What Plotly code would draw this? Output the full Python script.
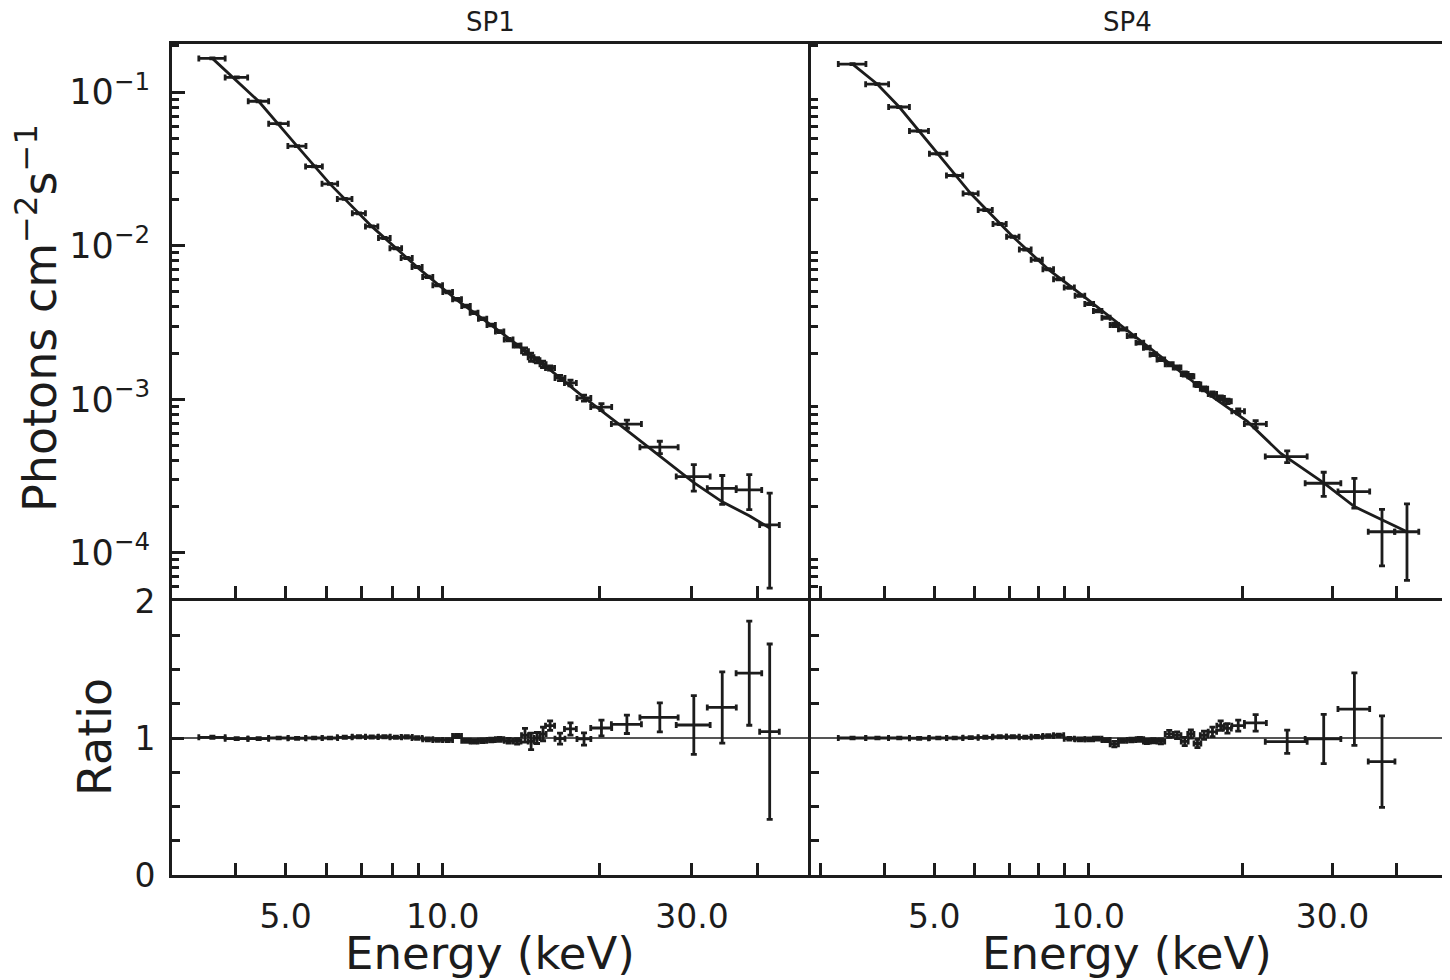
import plotly.graph_objects as go

# SP1 spectrum: bin centres / half widths (keV), unfolded flux (photons cm^-2 s^-1)
sp1_energy = [3.62, 4.03, 4.44, 4.85, 5.26, 5.67, 6.08, 6.49, 6.91, 7.31,
              7.73, 8.13, 8.53, 8.93, 9.36, 9.78, 10.22, 10.65, 11.08, 11.48,
              11.92, 12.38, 12.85, 13.37, 13.88, 14.37, 14.76, 15.15, 15.56, 16.05,
              16.77, 17.56, 18.64, 20.13, 22.52, 26.04, 30.25, 34.29, 38.63, 42.27]
sp1_energy_hw = [0.21, 0.20, 0.20, 0.21, 0.21, 0.21, 0.21, 0.21, 0.20, 0.20,
                 0.20, 0.21, 0.21, 0.20, 0.21, 0.21, 0.22, 0.21, 0.21, 0.20,
                 0.22, 0.23, 0.24, 0.26, 0.24, 0.22, 0.19, 0.20, 0.21, 0.32,
                 0.37, 0.46, 0.57, 0.93, 1.49, 2.19, 2.26, 2.19, 2.18, 1.83]
sp1_flux = [0.1661, 0.1248, 0.0873, 0.0624, 0.04457, 0.03283, 0.0253, 0.02019, 0.01626, 0.01337,
            0.01123, 0.00963, 0.00831, 0.00726, 0.00627, 0.00553, 0.0050, 0.00448, 0.00405, 0.003665,
            0.003348, 0.003047, 0.002762, 0.002448, 0.002237, 0.002059, 0.001881, 0.001798, 0.001693, 0.001602,
            0.001378, 0.001278, 0.00102, 0.00089, 0.00069, 0.000488, 0.000314, 0.000263, 0.000257, 0.000152]
sp1_flux_err = [0.0013, 0.00088, 0.00061, 0.00044, 0.00031, 0.00023, 0.00018, 0.00016, 0.00013, 0.00011,
                0.000089, 0.000077, 0.000074, 0.000065, 0.000063, 0.000056, 0.000056, 0.000053, 0.00005, 0.000049,
                0.000044, 0.000043, 0.000042, 0.000042, 0.000046, 0.0001, 0.000116, 0.000072, 0.000082, 0.000051,
                0.000055, 0.000054, 0.000046, 0.000047, 0.000042, 0.000045, 0.000062, 0.000056, 0.000066, 0.000093]
sp1_ratio = [1.005, 0.995, 0.995, 1.0, 0.998, 1.0, 1.0, 1.005, 1.01, 1.008,
             1.01, 1.005, 1.008, 1.0, 0.99, 0.985, 0.985, 1.015, 0.98, 0.975,
             0.98, 0.985, 0.99, 0.98, 0.975, 1.02, 0.975, 1.0, 1.03, 1.09,
             0.995, 1.066, 0.993, 1.073, 1.10, 1.15, 1.095, 1.223, 1.473, 1.046]
sp1_ratio_err = [0.008, 0.007, 0.007, 0.007, 0.007, 0.007, 0.007, 0.008, 0.008, 0.008,
                 0.008, 0.008, 0.009, 0.009, 0.01, 0.01, 0.011, 0.012, 0.012, 0.013,
                 0.013, 0.014, 0.015, 0.017, 0.02, 0.05, 0.06, 0.04, 0.05, 0.035,
                 0.04, 0.045, 0.045, 0.057, 0.067, 0.106, 0.215, 0.26, 0.38, 0.64]
sp1_model_energy = [3.62, 4.44, 5.26, 6.08, 7.31, 8.93, 10.65, 12.85, 15.56, 18.64,
                    22.52, 26.04, 30.25, 34.29, 38.63, 42.27]
sp1_model_flux = [0.1661, 0.0873, 0.04457, 0.0253, 0.01337, 0.00726, 0.00442, 0.00277, 0.001693, 0.00103,
                  0.000627, 0.000424, 0.000287, 0.000215, 0.0001745, 0.000145]

# SP4 spectrum
sp4_energy = [3.46, 3.87, 4.27, 4.67, 5.09, 5.48, 5.89, 6.29, 6.71, 7.12,
              7.53, 7.93, 8.35, 8.75, 9.18, 9.63, 10.04, 10.43, 10.83, 11.24,
              11.67, 12.14, 12.61, 13.01, 13.40, 13.86, 14.39, 14.91, 15.43, 15.86,
              16.34, 16.83, 17.48, 18.14, 18.70, 19.63, 21.23, 24.47, 28.84, 33.11,
              37.49, 41.95]
sp4_energy_hw = [0.215, 0.20, 0.20, 0.20, 0.20, 0.20, 0.20, 0.20, 0.20, 0.20,
                 0.20, 0.20, 0.20, 0.20, 0.21, 0.21, 0.20, 0.20, 0.20, 0.21,
                 0.22, 0.23, 0.22, 0.20, 0.20, 0.24, 0.26, 0.26, 0.24, 0.22,
                 0.25, 0.28, 0.33, 0.31, 0.33, 0.56, 1.05, 2.30, 2.31, 2.36,
                 2.25, 2.29]
sp4_flux = [0.1524, 0.1128, 0.0801, 0.0559, 0.03975, 0.02868, 0.02187, 0.01711, 0.01386, 0.01145,
            0.00946, 0.0081, 0.00702, 0.00606, 0.00534, 0.00473, 0.00418, 0.00376, 0.0034, 0.00305,
            0.002855, 0.00258, 0.002333, 0.002164, 0.00196, 0.001818, 0.001693, 0.001611, 0.001463, 0.001413,
            0.001248, 0.001171, 0.001083, 0.00102, 0.00097, 0.000835, 0.00069, 0.000424, 0.000284, 0.0002505,
            0.0001372, 0.0001372]
sp4_flux_err = [0.00107, 0.00079, 0.00056, 0.00039, 0.00028, 0.0002, 0.00015, 0.000137, 0.00011, 0.00009,
                0.000075, 0.000072, 0.000062, 0.000053, 0.000054, 0.000048, 0.000042, 0.000042, 0.000038, 0.00008,
                0.000035, 0.000034, 0.000033, 0.000033, 0.000032, 0.000034, 0.000041, 0.00004, 0.000045, 0.000041,
                0.000039, 0.000035, 0.000036, 0.000033, 0.000032, 0.000031, 0.000037, 0.000037, 0.000051, 0.000055,
                0.000055, 0.000071]
sp4_ratio = [1.0, 1.0, 1.0, 0.998, 1.0, 1.0, 1.002, 1.005, 1.01, 1.01,
             1.005, 1.01, 1.015, 1.02, 0.995, 0.99, 0.99, 0.995, 0.985, 0.955,
             0.98, 0.985, 0.99, 0.975, 0.98, 0.975, 1.03, 1.02, 0.975, 1.03,
             0.96, 1.02, 1.045, 1.09, 1.07, 1.09, 1.11, 0.973, 0.993, 1.211,
             0.828, None]
sp4_ratio_err = [0.007, 0.007, 0.007, 0.007, 0.007, 0.007, 0.007, 0.008, 0.008, 0.008,
                 0.008, 0.009, 0.009, 0.009, 0.01, 0.01, 0.01, 0.011, 0.011, 0.02,
                 0.012, 0.013, 0.014, 0.015, 0.016, 0.018, 0.025, 0.025, 0.03, 0.03,
                 0.03, 0.03, 0.035, 0.035, 0.035, 0.04, 0.06, 0.085, 0.18, 0.265,
                 0.334, None]
sp4_model_energy = [3.46, 3.87, 4.27, 4.67, 5.09, 5.89, 7.12, 8.35, 9.68, 13.05,
                    17.60, 20.45, 23.74, 28.84, 33.11, 41.95]
sp4_model_flux = [0.1524, 0.1128, 0.0801, 0.0559, 0.03975, 0.02187, 0.01145, 0.00702, 0.00483, 0.00222,
                  0.00102, 0.000718, 0.000446, 0.000286, 0.0002, 0.000137]

# tick labels
energy_ticks = [5, 10, 30]
energy_ticktext = ["5.0", "10.0", "30.0"]
energy_minor = [3, 4, 6, 7, 8, 9, 20, 40, 50]
flux_ticks = [1e-4, 1e-3, 1e-2, 1e-1]
flux_ticktext = ["10<sup>−4</sup>", "10<sup>−3</sup>", "10<sup>−2</sup>", "10<sup>−1</sup>"]
ratio_ticks = [0, 1, 2]
ratio_ticktext = ["0", "1", "2"]
ratio_minor = [0.25, 0.5, 0.75, 1.25, 1.5, 1.75]

INK = "#1c1c1c"
FONT = "DejaVu Sans"
LW = 3
TW = 2.5
# the page body keeps its default 8px margin, so the figure is shrunk by it
# and everything below is laid out in page pixels
OFF = 8
W, H = 1450 - OFF, 980 - OFF

flux_minor = [m * 10 ** p for p in range(-5, 0) for m in range(2, 10)]


def px_x(a, b):
    return [(a - OFF) / W, (b - OFF) / W]


def px_y(top, bottom):
    return [1 - (bottom - OFF) / H, 1 - (top - OFF) / H]


def add_points(fig, xa, ya, x, xhw, y, yerr):
    # crosses: bin width horizontally, 1 sigma vertically
    fig.add_trace(go.Scatter(
        x=x, y=y, mode="markers", xaxis=xa, yaxis=ya,
        marker=dict(size=2, color=INK),
        error_x=dict(type="data", array=xhw, color=INK, thickness=2.8, width=3),
        error_y=dict(type="data", array=yerr, color=INK, thickness=2.8, width=3),
        hoverinfo="x+y", showlegend=False))


def add_model(fig, xa, ya, x, y):
    fig.add_trace(go.Scatter(
        x=x, y=y, mode="lines", xaxis=xa, yaxis=ya,
        line=dict(color=INK, width=2.8), hoverinfo="skip", showlegend=False))


fig = go.Figure()

add_points(fig, "x", "y", sp1_energy, sp1_energy_hw, sp1_flux, sp1_flux_err)
add_model(fig, "x", "y", sp1_model_energy, sp1_model_flux)
add_points(fig, "x2", "y2", sp4_energy, sp4_energy_hw, sp4_flux, sp4_flux_err)
add_model(fig, "x2", "y2", sp4_model_energy, sp4_model_flux)
add_points(fig, "x3", "y3", sp1_energy, sp1_energy_hw, sp1_ratio, sp1_ratio_err)
add_points(fig, "x4", "y4", sp4_energy, sp4_energy_hw, sp4_ratio, sp4_ratio_err)

axis_common = dict(showgrid=False, zeroline=False, showline=True, mirror=True,
                   automargin=False, linecolor=INK, linewidth=LW, ticks="inside",
                   tickcolor=INK, tickwidth=TW, tickangle=0,
                   tickfont=dict(family=FONT, size=33, color=INK))

# axis lines sit just outside each domain, so neighbouring panels are
# offset by one line width to let their shared edges coincide
left = px_x(172, 808)
right = px_x(808 + LW, 1446)
top = px_y(44, 598)
bottom = px_y(598 + LW, 875)

sp1_range = [0.4814, 1.6994]
sp4_range = [0.4579, 1.6990]


def energy_axis(domain, anchor, rng, labels):
    return dict(axis_common, type="log", domain=domain, anchor=anchor, range=rng,
                tickmode="array", tickvals=energy_ticks, ticktext=energy_ticktext,
                ticklen=12, showticklabels=labels, ticklabelstandoff=10,
                minor=dict(tickvals=energy_minor, ticks="inside", ticklen=12,
                           tickwidth=TW, tickcolor=INK, showgrid=False))


flux_range = [-4.294, -0.686]

fig.update_layout(
    template="none",
    width=W, height=H,
    margin=dict(l=0, r=0, t=0, b=0, pad=0),
    paper_bgcolor="white", plot_bgcolor="white",
    font=dict(family=FONT, color=INK),
    showlegend=False,
    xaxis=energy_axis(left, "y", sp1_range, False),
    xaxis2=energy_axis(right, "y2", sp4_range, False),
    xaxis3=energy_axis(left, "y3", sp1_range, True),
    xaxis4=energy_axis(right, "y4", sp4_range, True),
    yaxis=dict(axis_common, type="log", domain=top, anchor="x", range=flux_range,
               tickmode="array", tickvals=flux_ticks, ticktext=flux_ticktext,
               tickfont=dict(family=FONT, size=35, color=INK),
               ticklen=13, ticklabelstandoff=12,
               minor=dict(tickvals=flux_minor, ticks="inside", ticklen=7,
                          tickwidth=TW, tickcolor=INK, showgrid=False)),
    yaxis2=dict(axis_common, type="log", domain=top, anchor="x2", range=flux_range,
                tickmode="array", tickvals=flux_minor, ticklen=7,
                showticklabels=False),
    yaxis3=dict(axis_common, domain=bottom, anchor="x3", range=[0, 2],
                tickmode="array", tickvals=ratio_ticks, ticktext=ratio_ticktext,
                ticklen=12, ticklabelstandoff=7,
                minor=dict(tickvals=ratio_minor, ticks="inside", ticklen=8,
                           tickwidth=TW, tickcolor=INK, showgrid=False)),
    yaxis4=dict(axis_common, domain=bottom, anchor="x4", range=[0, 2],
                tickmode="array", tickvals=ratio_minor, ticklen=8,
                showticklabels=False),
)

# ratio = 1 reference lines
for xa, ya in (("x3", "y3"), ("x4", "y4")):
    fig.add_shape(type="line", xref=xa + " domain", yref=ya, x0=0, x1=1, y0=1, y1=1,
                  line=dict(color=INK, width=1.5))


def label(text, cx, cy, size, angle=0):
    fig.add_annotation(text=text, textangle=angle, x=(cx - OFF) / W, y=1 - (cy - OFF) / H,
                       xref="paper", yref="paper", xanchor="center", yanchor="middle",
                       showarrow=False, font=dict(family=FONT, size=size, color=INK))


label("Photons cm<sup>−2</sup>s<sup>−1</sup>", 37, 318, 46, -90)
label("Ratio", 95, 737, 46, -90)
for cx in (490, 1127):
    label("Energy (keV)", cx, 953, 45)
for cx, name in ((490, "SP1"), (1127, "SP4")):
    label(name, cx, 22, 26)

fig.write_html("out.html")
